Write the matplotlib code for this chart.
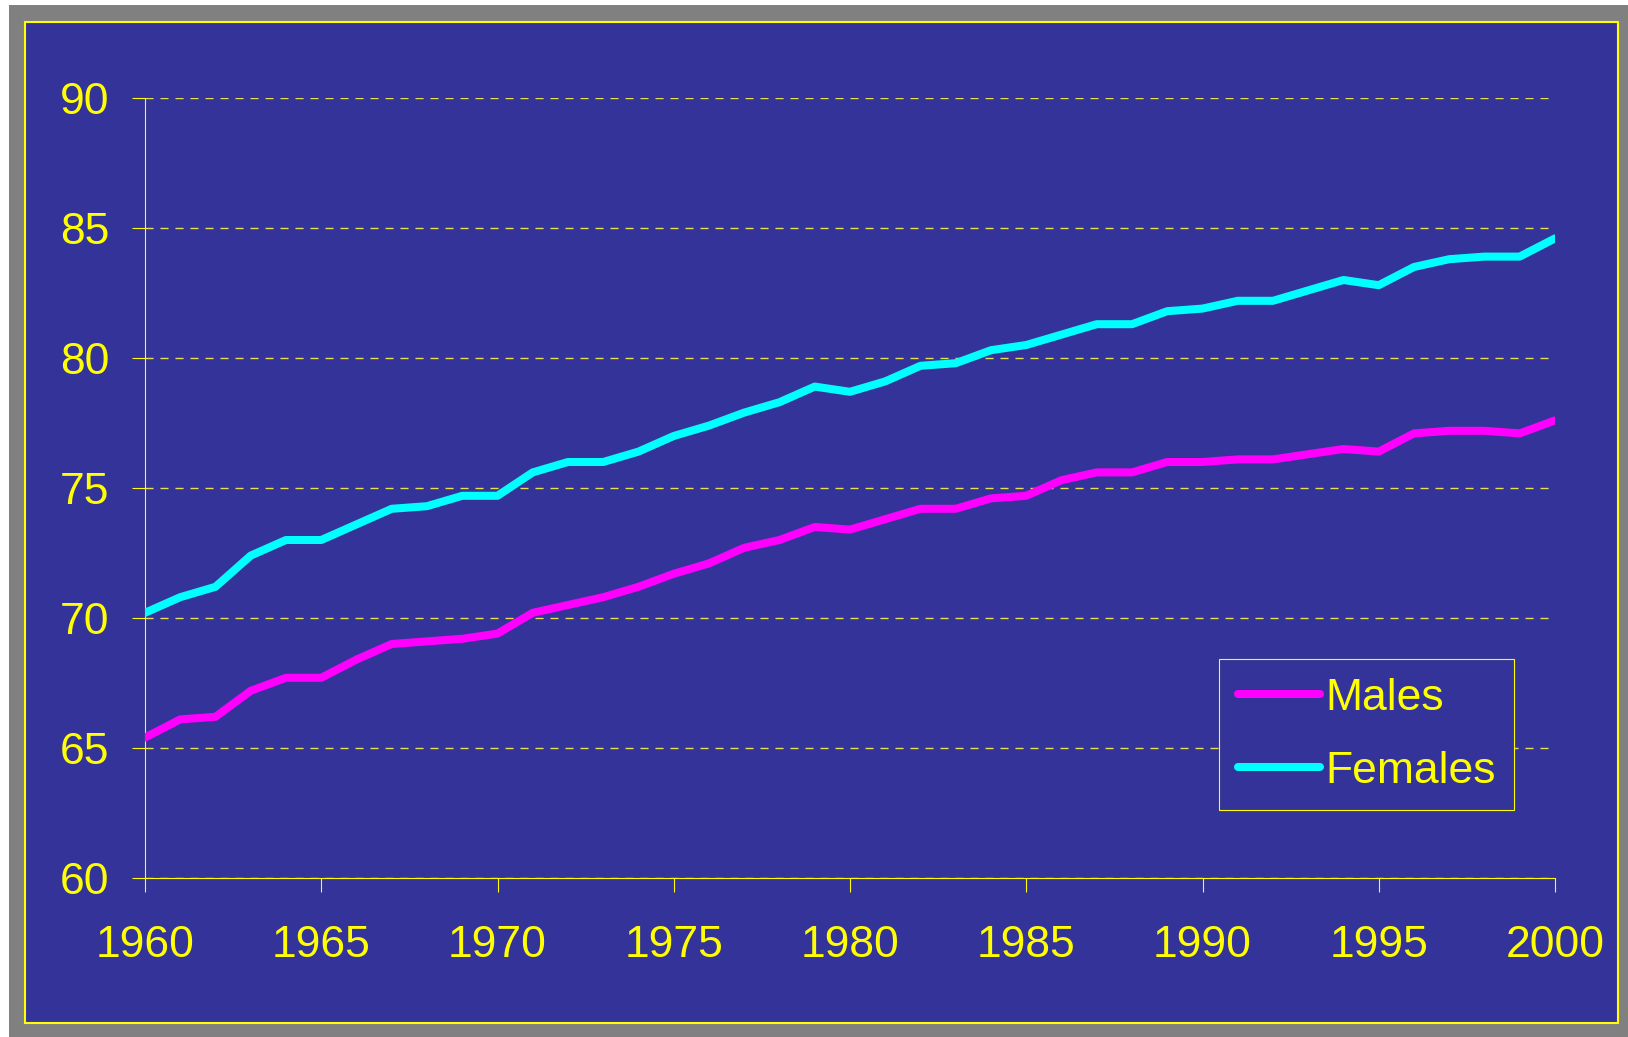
import matplotlib
matplotlib.use('Agg')
import matplotlib.pyplot as plt
from matplotlib.patches import Rectangle

# data
years = list(range(1960, 2001))
males = [65.4, 66.1, 66.2, 67.2, 67.7, 67.7, 68.4, 69.0, 69.1, 69.2,
         69.4, 70.2, 70.5, 70.8, 71.2, 71.7, 72.1, 72.7, 73.0, 73.5,
         73.4, 73.8, 74.2, 74.2, 74.6, 74.7, 75.3, 75.6, 75.6, 76.0,
         76.0, 76.1, 76.1, 76.3, 76.5, 76.4, 77.1, 77.2, 77.2, 77.1,
         77.6]
females = [70.2, 70.8, 71.2, 72.4, 73.0, 73.0, 73.6, 74.2, 74.3, 74.7,
           74.7, 75.6, 76.0, 76.0, 76.4, 77.0, 77.4, 77.9, 78.3, 78.9,
           78.7, 79.1, 79.7, 79.8, 80.3, 80.5, 80.9, 81.3, 81.3, 81.8,
           81.9, 82.2, 82.2, 82.6, 83.0, 82.8, 83.5, 83.8, 83.9, 83.9,
           84.6]
xticks = [1960, 1965, 1970, 1975, 1980, 1985, 1990, 1995, 2000]
yticks = [60, 65, 70, 75, 80, 85, 90]

plt.rcParams['font.family'] = ['Liberation Sans', 'DejaVu Sans']

blue = '#333399'
yellow = '#ffff00'
W, H = 1628, 1037

fig = plt.figure(figsize=(W/100, H/100), dpi=100)
fig.patch.set_facecolor('white')

# grey frame and blue panel
fig.add_artist(Rectangle((9/W, 0), 1, (H-5)/H, transform=fig.transFigure,
                         facecolor='#808080', edgecolor='none', zorder=-2))
fig.add_artist(Rectangle((25/W, (H-1023)/H), (1618-25)/W, (1023-22)/H,
                         transform=fig.transFigure, facecolor=blue,
                         edgecolor=yellow, linewidth=1.5, zorder=-1))

ax = fig.add_axes([145/W, (H-878)/H, 1410/W, 780/H])
ax.set_facecolor('none')

ax.plot(years, males, color='#ff00ff', lw=5.8, solid_capstyle='round', label='Males', zorder=3)
ax.plot(years, females, color='#00ffff', lw=5.8, solid_capstyle='round', label='Females', zorder=3)

ax.set_xlim(1960, 2000)
ax.set_ylim(60, 90)
ax.set_xticks(xticks)
ax.set_yticks(yticks)

for s in ['top', 'right']:
    ax.spines[s].set_visible(False)
for s in ['left', 'bottom']:
    ax.spines[s].set_color(yellow)
    ax.spines[s].set_linewidth(0.8)

ax.tick_params(axis='both', colors=yellow, labelsize=32, width=0.8, direction='out')
ax.tick_params(axis='y', length=9.5, pad=16)
ax.tick_params(axis='x', length=10, pad=24)

ax.yaxis.grid(True, color='#e6e050', lw=1.0, linestyle=(0, (5.8, 5.0)))
ax.set_axisbelow(True)

leg = ax.legend(loc='upper left', bbox_to_anchor=(1219/W, 1-659/H),
                bbox_transform=fig.transFigure, borderaxespad=0,
                fontsize=32, frameon=True, fancybox=False,
                handlelength=1.85, handletextpad=0.12, borderpad=0.42,
                labelspacing=0.72)
leg.get_frame().set_facecolor(blue)
leg.get_frame().set_edgecolor(yellow)
leg.get_frame().set_linewidth(0.8)
leg.get_frame().set_alpha(1)
for t in leg.get_texts():
    t.set_color(yellow)

fig.savefig('out.png', dpi=100, facecolor=fig.get_facecolor())
